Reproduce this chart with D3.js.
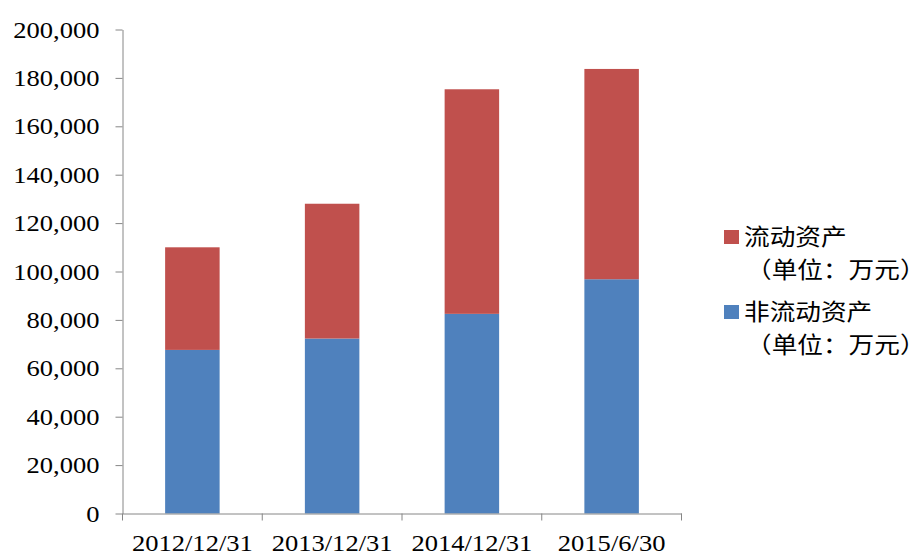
<!DOCTYPE html>
<html><head><meta charset="utf-8">
<script src="https://cdn.jsdelivr.net/npm/d3@7"></script>
<style>body{margin:0;background:#fff}svg{display:block}</style>
</head><body>
<svg id="c" width="919" height="554"></svg>
<script>
const categories = ["2012/12/31","2013/12/31","2014/12/31","2015/6/30"];
const nonCurrent = [67600, 72300, 82500, 96800];   // 非流动资产
const current = [42400, 55700, 92800, 86900];      // 流动资产
const totals = categories.map((c,i)=>nonCurrent[i]+current[i]);
const yTicks = [0,20000,40000,60000,80000,100000,120000,140000,160000,180000,200000];
const seriesNames = ["流动资产","非流动资产"];
const unitLabel = "（单位：万元）";

const svg = d3.select("#c");
const L = 122.5, R = 681.5, T = 29.5, B = 513.5;
const x = d3.scaleBand().domain(categories).range([L,R]).padding(0);
const y = d3.scaleLinear().domain([0,200000]).range([B,T]);
const blue = "#4f81bd", red = "#c0504d", axisC = "#868686";
const bw = x.bandwidth()*0.39;
const SX = 1.13;
const serif = "'Liberation Serif','Times New Roman',serif";

const g = svg.append("g");
categories.forEach((c,i)=>{
  const cx = x(c)+x.bandwidth()/2;
  g.append("rect").attr("x",cx-bw/2).attr("width",bw)
    .attr("y",y(nonCurrent[i])).attr("height",y(0)-y(nonCurrent[i])).attr("fill",blue);
  g.append("rect").attr("x",cx-bw/2).attr("width",bw)
    .attr("y",y(totals[i])).attr("height",y(nonCurrent[i])-y(totals[i])).attr("fill",red);
});

// y axis
const ya = svg.append("g").attr("transform",`translate(${L},0)`)
  .call(d3.axisLeft(y).tickValues(yTicks).tickSize(7).tickPadding(15).tickSizeOuter(0)
  .tickFormat(d3.format(",")));
ya.select(".domain").attr("stroke",axisC);
ya.selectAll(".tick line").attr("stroke",axisC);
ya.selectAll("text").attr("font-family",serif)
  .attr("font-size",23.5).attr("fill","#000")
  .attr("x",0).attr("transform",`translate(-23,0) scale(${SX},1)`);

// x axis
const xa = svg.append("g").attr("transform",`translate(0,${B})`)
  .call(d3.axisBottom(x).tickSize(0).tickPadding(0).tickSizeOuter(0));
xa.select(".domain").attr("stroke",axisC);
xa.selectAll(".tick text").attr("font-family",serif)
  .attr("font-size",23.5).attr("fill","#000").attr("dy",null).attr("y",38)
  .attr("transform",`scale(${SX},1)`);
xa.selectAll(".tick line").remove();
const edges = categories.map(c=>x(c)).concat([x(categories[categories.length-1])+x.bandwidth()]);
xa.selectAll("line.edge").data(edges).enter().append("line").attr("class","edge")
  .attr("x1",d=>d).attr("x2",d=>d).attr("y1",0).attr("y2",7).attr("stroke",axisC);

// legend
const leg = svg.append("g");
const items = [{name:seriesNames[0],color:red,y:237},{name:seriesNames[1],color:blue,y:312}];
const cjk = "'Noto Sans CJK SC',sans-serif";
items.forEach(it=>{
  leg.append("rect").attr("x",724).attr("y",it.y-7).attr("width",15).attr("height",14).attr("fill",it.color);
  leg.append("text").attr("transform",`translate(744,${it.y}) scale(${SX},1)`).attr("dy","0.35em")
    .attr("font-family",cjk).attr("font-size",22.7).text(it.name);
  leg.append("text").attr("transform",`translate(746,${it.y+33}) scale(${SX},1)`).attr("dy","0.35em")
    .attr("font-family",cjk).attr("font-size",22.7).text(unitLabel);
});
</script>
</body></html>
